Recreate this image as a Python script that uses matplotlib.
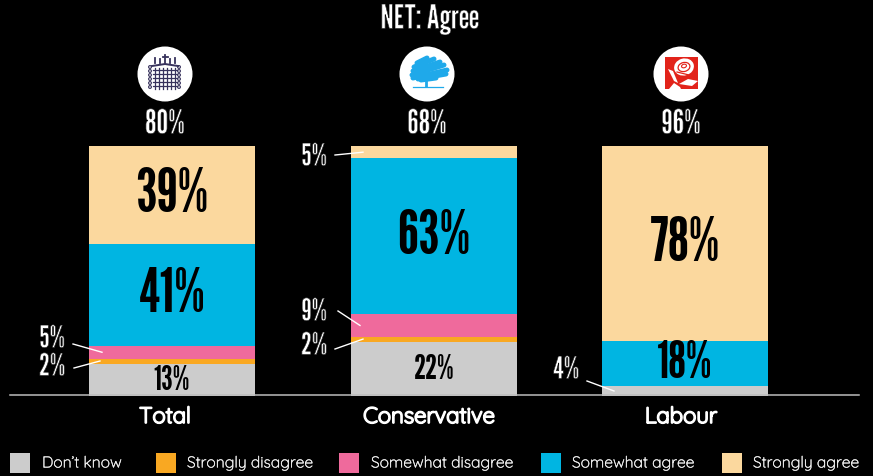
import matplotlib
matplotlib.use("Agg")
import matplotlib.pyplot as plt
import matplotlib.patheffects as pe
from matplotlib.patches import Circle, Ellipse, Rectangle, Polygon

# Survey shares per group, bottom of the stack first
categories = ["Total", "Conservative", "Labour"]
net_agree = ["80%", "68%", "96%"]
responses = ["Don\u2019t know", "Strongly disagree", "Somewhat disagree",
             "Somewhat agree", "Strongly agree"]
dont_know = [13, 22, 4]
strongly_disagree = [2, 2, 0]
somewhat_disagree = [5, 9, 0]
somewhat_agree = [41, 63, 18]
strongly_agree = [39, 5, 78]

colors = ["#CCCCCC", "#F9A822", "#EF6A9C", "#00B5E2", "#FBD89E"]
bar_left = [89, 351, 602]
bar_width = 166
header_x = [165, 427, 681]

W, H = 873, 477
BASE_Y, TOP_Y = 397, 147
PX_PER_PCT = (BASE_Y - TOP_Y) / 100

HEAVY = ["League Gothic", "Antonio", "Liberation Sans Narrow", "DejaVu Sans"]
ROUND = ["Quicksand", "Lato", "DejaVu Sans"]

# League Gothic is heavy; a background-coloured outline over the fill lightens it
THIN = [pe.Normal(), pe.Stroke(linewidth=0.45, foreground="black")]

fig = plt.figure(figsize=(W / 100, H / 100), dpi=100, facecolor="black")

# Bars live on a percent scale; y = 0 is the baseline, 100 the top of each stack
ax = fig.add_axes([0, 0, 1, 1], facecolor="black")
ax.set_xlim(0, W)
ax.set_ylim(-(H - BASE_Y) / PX_PER_PCT, 100 + TOP_Y / PX_PER_PCT)
ax.axis("off")

# Everything around the bars is placed on a pixel grid with y pointing down
px = fig.add_axes([0, 0, 1, 1], facecolor="none")
px.set_xlim(0, W)
px.set_ylim(H, 0)
px.axis("off")

series = [dont_know, strongly_disagree, somewhat_disagree, somewhat_agree, strongly_agree]
segments = {}
for g, name in enumerate(categories):
    total = sum(s[g] for s in series)
    bottom = 0.0
    for k, s in enumerate(series):
        h = s[g] / total * 100
        if h > 0:
            ax.bar(bar_left[g], h, bar_width, bottom=bottom, align="edge",
                   color=colors[k], linewidth=0, zorder=2)
        segments[(g, k)] = bottom + h / 2
        bottom += h

px.plot([10, 859], [396, 396], color="#BDBDBD", lw=1.1, zorder=1)


def inside(g, k, size):
    """Black value label centred in a segment."""
    ax.text(bar_left[g] + bar_width / 2, segments[(g, k)], f"{series[k][g]}%",
            ha="center", va="center", color="black", fontsize=size, family=HEAVY, zorder=5)


def outside(g, k, tx, ty, x0, y0, x1):
    """White value label beside the bar with a leader into its segment."""
    px.text(tx, ty, f"{series[k][g]}%", ha="center", va="center", color="white",
            fontsize=22, family=HEAVY, zorder=6, path_effects=THIN)
    y1 = BASE_Y - segments[(g, k)] * PX_PER_PCT
    px.plot([x0, x1], [y0, y1], color="white", lw=1.0, zorder=6)


inside(0, 4, 44)
inside(0, 3, 44)
inside(0, 0, 24)
inside(1, 3, 44)
inside(1, 0, 24)
inside(2, 4, 44)
inside(2, 3, 37)

outside(0, 2, 52, 340, 73, 345, 102)
outside(0, 1, 52, 368, 74, 369, 100)
outside(1, 4, 314, 158, 335, 156, 363)
outside(1, 2, 314, 313, 338, 312, 360)
outside(1, 1, 314, 347, 335, 350, 363)
outside(2, 0, 566, 371, 587, 382, 614)

px.text(430, 20, "NET: Agree", ha="center", va="center", color="white", fontsize=24,
        family=HEAVY, path_effects=THIN)
for g in range(3):
    px.text(header_x[g], 125, net_agree[g], ha="center", va="center",
            color="white", fontsize=24, family=HEAVY, path_effects=THIN)
    px.text([165, 429, 681][g], 418, categories[g], ha="center", va="center", color="white",
            fontsize=16, fontweight="bold", family=ROUND,
            path_effects=[pe.withStroke(linewidth=1.3, foreground="white")])
    px.add_patch(Circle((header_x[g], 75), 27.5, fc="white", ec="none", zorder=3))

# Portcullis emblem
navy = "#37325C"
for x in range(155, 177, 4):
    px.plot([x, x], [69, 90], color=navy, lw=0.9, zorder=4)
for y in range(71, 89, 4):
    px.plot([153, 177], [y, y], color=navy, lw=0.9, zorder=4)
px.plot([152, 165, 178], [67, 65, 67], color=navy, lw=1.4, zorder=4)
for x, t in [(155, 59), (160, 60), (165, 56), (170, 60), (175, 59)]:
    px.plot([x, x], [t, 64], color=navy, lw=1.3, zorder=4)
px.plot([162.5, 167.5], [58, 58], color=navy, lw=1.3, zorder=4)
for x in (150, 179):
    for y in range(68, 92, 4):
        px.add_patch(Circle((x, y), 1.4, fc="none", ec=navy, lw=0.8, zorder=4))

# Tree emblem drawn as brush strokes
sky = "#1FA9EA"
strokes = [
    ([417, 427], [64, 59]), ([414, 434], [68, 60]), ([413, 440], [72, 63]),
    ([412, 444], [76, 66]), ([413, 447], [79, 71]), ([418, 446], [80, 75]),
    ([421, 436], [81, 79]),
]
for xs, ys in strokes:
    px.plot(xs, ys, color=sky, lw=3.6, solid_capstyle="round", zorder=4)
px.plot([425.5, 425.5], [80, 87], color=sky, lw=2.0, zorder=4)
px.plot([413, 443], [87.5, 87.5], color=sky, lw=0.9, zorder=4)

# Rose emblem: red block with white petals and leaves cut out
red = "#E2231A"
px.add_patch(Rectangle((665, 58), 33, 32, fc=red, ec="none", zorder=4))
px.add_patch(Ellipse((684, 68), 20, 17, angle=-15, fc="white", ec="none", zorder=5))
px.add_patch(Ellipse((684, 68), 12, 9, angle=-15, fc="none", ec=red, lw=0.9, zorder=6))
px.add_patch(Ellipse((684, 67), 5, 3.5, angle=-15, fc="none", ec=red, lw=0.8, zorder=6))
px.plot([677, 689], [73, 76], color=red, lw=0.9, zorder=6)
px.add_patch(Polygon([(668, 70), (673, 72), (678, 84), (674, 82)], fc="white", ec="none", zorder=5))
px.add_patch(Polygon([(679, 85), (688, 80), (698, 82), (692, 87)], fc="white", ec="none", zorder=5))
px.add_patch(Polygon([(669, 90), (674, 84), (680, 88), (681, 90)], fc="white", ec="none", zorder=5))

# Legend row
swatch_x = [10, 156, 339, 541, 722]
label_x = [42, 187, 371, 572, 753]
for k, name in enumerate(responses):
    px.add_patch(Rectangle((swatch_x[k], 454), 20, 20, fc=colors[k], ec="none"))
    px.text(label_x[k], 464.5, name, ha="left", va="center", color="#F0F0F0", fontsize=11.3,
            family=ROUND, path_effects=[pe.withStroke(linewidth=0.25, foreground="#F0F0F0")])

fig.savefig("out.png", dpi=100, facecolor="black")
